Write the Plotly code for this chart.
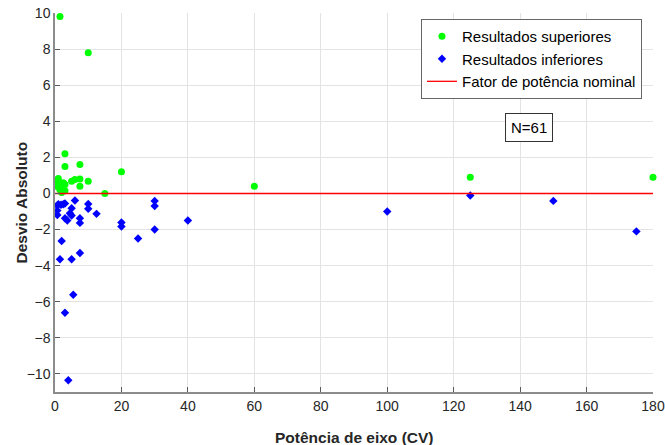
import plotly.graph_objects as go

# Resultados superiores (green circles)
sup_x = [1.5, 10, 3, 3, 7.5, 20, 60, 125, 180, 15, 5, 6, 7.5, 10, 7.5,
         1, 0.75, 1.5, 2.5, 2.2, 1.5, 3, 3, 1, 2]
sup_y = [9.8, 7.8, 2.2, 1.5, 1.6, 1.2, 0.4, 0.9, 0.9, 0.0, 0.68, 0.78, 0.8, 0.68, 0.4,
         0.83, 0.6, 0.55, 0.6, 0.3, 0.2, 0.15, 0.5, 0.35, 0.05]

# Resultados inferiores (blue diamonds)
inf_x = [0.7, 1.8, 3, 6, 0.7, 0.7, 5, 5, 3, 3.7, 7.5, 7.5, 10, 10, 12.5,
         30, 30, 20, 20, 25, 30, 2, 1.5, 5, 7.5, 5.5, 3, 4,
         40, 100, 125, 150, 175, 1, 2.5, 4.5]
inf_y = [-0.67, -0.63, -0.55, -0.39, -0.95, -1.19, -0.82, -1.22, -1.37, -1.5, -1.37, -1.63,
         -0.58, -0.85, -1.13,
         -0.41, -0.69, -1.61, -1.83, -2.5, -2.0, -2.63, -3.65, -3.65, -3.3, -5.61, -6.61, -10.35,
         -1.5, -1.0, -0.11, -0.41, -2.1, -0.6, -0.6, -1.1]

nom_x = [0, 180]
nom_y = [0, 0]

x_ticks = list(range(0, 181, 20))
y_ticks = list(range(-10, 11, 2))

FONT = "Liberation Sans, Arial, sans-serif"

fig = go.Figure()
fig.add_trace(go.Scatter(x=sup_x, y=sup_y, mode="markers", name="Resultados superiores",
                         marker=dict(symbol="circle", size=7, color="#00FF00"),
                         cliponaxis=False))
fig.add_trace(go.Scatter(x=inf_x, y=inf_y, mode="markers", name="Resultados inferiores",
                         marker=dict(symbol="diamond", size=6.5, color="#0000FF"),
                         cliponaxis=False))
fig.add_trace(go.Scatter(x=nom_x, y=nom_y, mode="lines", name="Fator de potência nominal",
                         line=dict(color="#FF0000", width=1.3)))

axis_common = dict(showgrid=True, gridcolor="#E3E3E3", gridwidth=1,
                   showline=True, linecolor="#8C8C8C", linewidth=1.5,
                   ticks="inside", ticklen=5, tickcolor="#5A5A5A", tickwidth=1,
                   zeroline=False, mirror=False, automargin=False,
                   ticklabeloverflow="allow",
                   tickfont=dict(family=FONT, size=14, color="#262626"))

TITLE_FONT = dict(family=FONT, size=15.5, color="#262626")

fig.update_layout(
    width=665, height=445,
    margin=dict(l=55, r=12, t=13, b=53),
    paper_bgcolor="white", plot_bgcolor="white",
    font=dict(family=FONT, size=14, color="#262626"),
    xaxis=dict(range=[0, 180], tickvals=x_ticks, **axis_common),
    yaxis=dict(range=[-11, 10], tickvals=y_ticks, **axis_common),
    legend=dict(x=0.612, y=0.984, xanchor="left", yanchor="top",
                bgcolor="white", bordercolor="#666666", borderwidth=1,
                font=dict(family=FONT, size=15, color="#000000"),
                itemwidth=30, tracegroupgap=0),
    showlegend=True,
    annotations=[
        dict(x=0.833, y=0.736, xref="paper", yref="paper", text="N=61",
             showarrow=False, font=dict(family=FONT, size=15, color="#000000"),
             bordercolor="#333333", borderwidth=1, borderpad=5, bgcolor="white"),
        dict(x=0.5, y=0, xref="paper", yref="paper", text="<b>Potência de eixo (CV)</b>",
             showarrow=False, font=TITLE_FONT, xanchor="center", yanchor="middle", yshift=-45),
        dict(x=0, y=0.5, xref="paper", yref="paper", text="<b>Desvio Absoluto</b>",
             showarrow=False, font=TITLE_FONT, textangle=-90,
             xanchor="center", yanchor="middle", xshift=-34),
    ],
)

fig.write_html("out.html", config={"displayModeBar": False},
               post_script="document.body.style.margin='0';")
